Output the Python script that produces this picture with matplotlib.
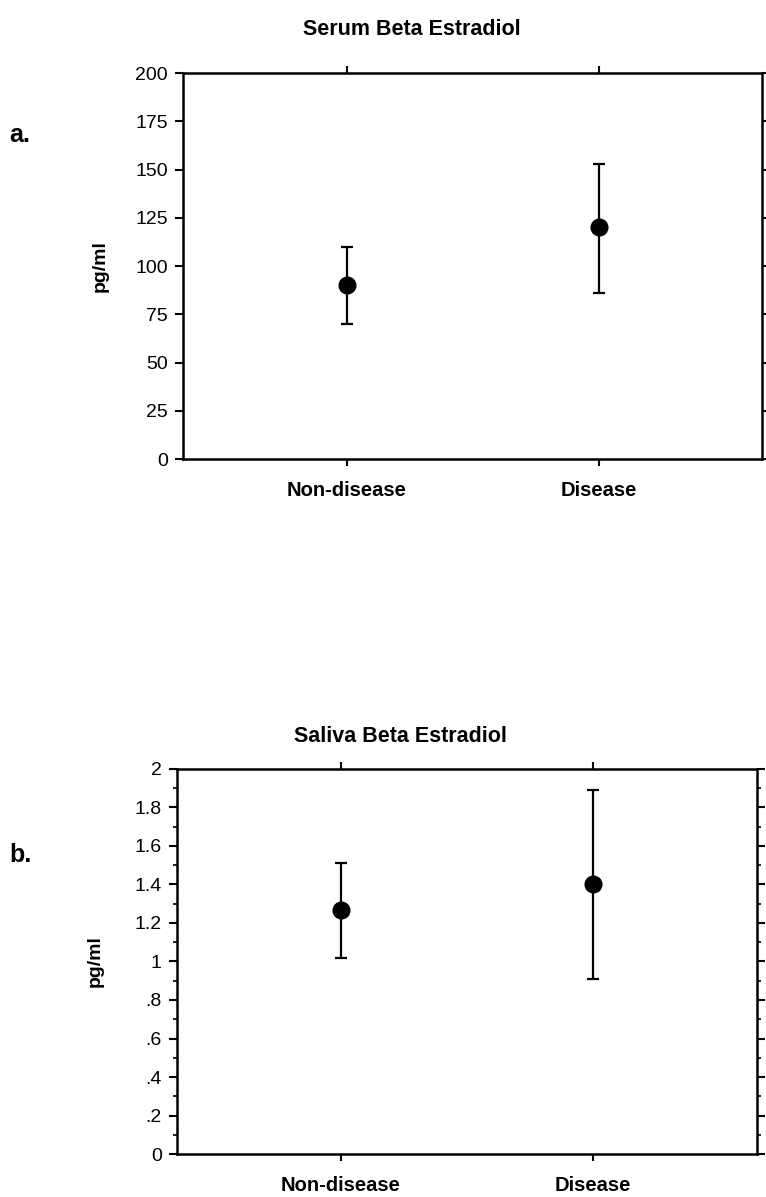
import matplotlib.pyplot as plt
from matplotlib.ticker import MultipleLocator

plt.rcParams['font.family'] = ['Liberation Sans', 'DejaVu Sans']

groups = ['Non-disease', 'Disease']

serum_mean = [90, 120]
serum_low = [70, 86]
serum_high = [110, 153]

saliva_mean = [1.27, 1.40]
saliva_low = [1.02, 0.91]
saliva_high = [1.51, 1.89]

serum_ticks = [0, 25, 50, 75, 100, 125, 150, 175, 200]
saliva_ticks = [0, 0.2, 0.4, 0.6, 0.8, 1.0, 1.2, 1.4, 1.6, 1.8, 2.0]
saliva_labels = ['0', '.2', '.4', '.6', '.8', '1', '1.2', '1.4', '1.6', '1.8', '2']


def panel(ax, mean, low, high, ticks, labels=None, minor=None):
    x = [1, 2]
    yerr = [[m - l for m, l in zip(mean, low)], [h - m for m, h in zip(mean, high)]]
    ax.errorbar(x, mean, yerr=yerr, fmt='o', color='black', ms=12,
                elinewidth=1.6, capsize=4, capthick=1.6)
    ax.set_xlim(0.35, 2.65)
    ax.set_ylim(ticks[0], ticks[-1])
    ax.set_yticks(ticks)
    if labels:
        ax.set_yticklabels(labels)
    if minor:
        ax.yaxis.set_minor_locator(MultipleLocator(minor))
    ax.set_xticks(x)
    ax.set_xticklabels(groups, fontsize=14.5, fontweight='bold')
    ax.tick_params(axis='x', direction='out', top=True, length=5, width=1.5, pad=11)
    ax.tick_params(axis='y', direction='out', right=True, length=6, width=1.5,
                   labelsize=14, pad=5)
    ax.tick_params(axis='y', which='minor', direction='out', right=True,
                   length=3, width=1.2)
    for s in ax.spines.values():
        s.set_linewidth(1.8)


fig = plt.figure(figsize=(7.66, 11.97), dpi=100)

ax1 = fig.add_axes([0.239, 0.6165, 0.756, 0.3225])
panel(ax1, serum_mean, serum_low, serum_high, serum_ticks)
fig.text(0.537, 0.975, 'Serum Beta Estradiol', ha='center', va='center',
         fontsize=15.5, fontweight='bold')
fig.text(0.012, 0.887, 'a.', ha='left', va='center', fontsize=18, fontweight='bold')
fig.text(0.131, 0.778, 'pg/ml', rotation=90, ha='center', va='center',
         fontsize=14, fontweight='bold')

ax2 = fig.add_axes([0.231, 0.0359, 0.757, 0.3217])
panel(ax2, saliva_mean, saliva_low, saliva_high, saliva_ticks, saliva_labels, 0.1)
fig.text(0.523, 0.385, 'Saliva Beta Estradiol', ha='center', va='center',
         fontsize=15.5, fontweight='bold')
fig.text(0.012, 0.286, 'b.', ha='left', va='center', fontsize=18, fontweight='bold')
fig.text(0.124, 0.197, 'pg/ml', rotation=90, ha='center', va='center',
         fontsize=14, fontweight='bold')

fig.savefig('out.png', dpi=100)
